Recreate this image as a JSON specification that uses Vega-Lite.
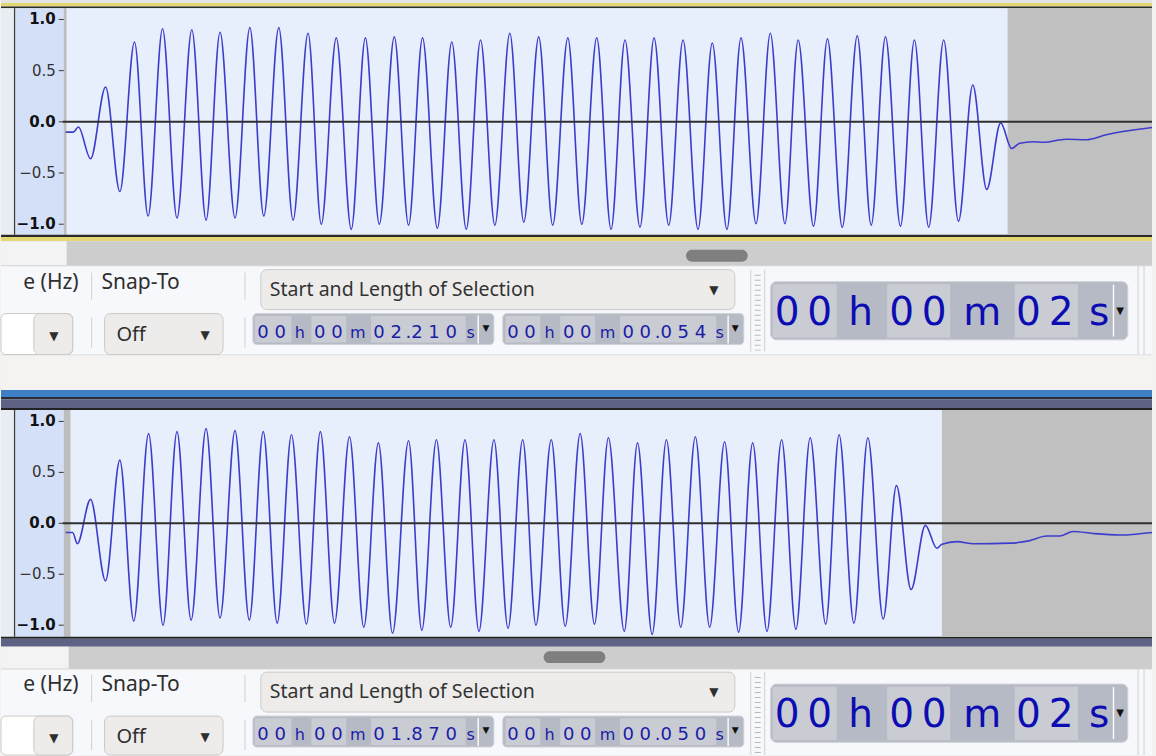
{
"$schema":"https://vega.github.io/schema/vega-lite/v6.json",
"width":1156,"height":756,
"autosize":{"type":"fit","contains":"padding"},
"padding":0,
"background":"#f3f2f0",
"config":{"view":{"stroke":null},
 "style":{
  "ui":{"font":"Noto Sans","fontSize":21,"color":"#2e2e2e","align":"left","baseline":"middle"},
  "uis":{"font":"Noto Sans","fontSize":19.5,"color":"#333333","align":"left","baseline":"middle"},
  "arrow":{"font":"DejaVu Sans","fontSize":12,"color":"#2e2e2e","align":"center","baseline":"middle"},
  "arrows":{"font":"DejaVu Sans","fontSize":9,"color":"#111111","align":"center","baseline":"middle"},
  "dig":{"font":"DejaVu Sans","fontSize":18,"color":"#1b1ba8","align":"center","baseline":"alphabetic"},
  "unit":{"font":"DejaVu Sans","fontSize":16,"color":"#1b1ba8","align":"center","baseline":"alphabetic"},
  "big":{"font":"DejaVu Sans","fontSize":39,"color":"#0c0cb2","align":"center","baseline":"alphabetic"},
  "sep":{"color":"#d0d0d0","strokeWidth":1},
  "wline":{"color":"#f8f8f8","strokeWidth":1.5},
  "box":{"color":"#edecea","stroke":"#cbc9c6","strokeWidth":1,"cornerRadius":6},
  "wbox":{"color":"#ffffff","stroke":"#cbc9c6","strokeWidth":1,"cornerRadius":5},
  "field":{"color":"#b6bac4","stroke":"#cfd1d6","strokeWidth":1,"cornerRadius":4},
  "cell":{"color":"#c9ccd3"},
  "thumb":{"color":"#7f7f7f","cornerRadius":6},
  "ylab":{"font":"DejaVu Sans","fontSize":15,"color":"#333333","align":"right","baseline":"middle"},
  "ylabb":{"font":"DejaVu Sans","fontSize":15,"fontWeight":"bold","color":"#111111","align":"right","baseline":"middle"}
 }
},
"data":{"values":[{}]},
"datasets":{
 "ticks":[{"v":1},{"v":0.5},{"v":0},{"v":-0.5},{"v":-1}],
 "track1":[
  {"ms":-0.06,"amp":-0.10},{"ms":0.38,"amp":-0.10},{"ms":0.67,"amp":-0.05},{"ms":1.37,"amp":-0.36},{"ms":2.23,"amp":0.34},{"ms":3.05,"amp":-0.68},{"ms":3.89,"amp":0.78},{"ms":4.67,"amp":-0.92},{"ms":5.50,"amp":0.91},{"ms":6.33,"amp":-0.94},{"ms":7.18,"amp":0.90},{"ms":8.00,"amp":-0.96},{"ms":8.80,"amp":0.875},{"ms":9.66,"amp":-0.94},{"ms":10.51,"amp":0.92},{"ms":11.31,"amp":-0.92},{"ms":12.17,"amp":0.92},{"ms":12.99,"amp":-0.96},{"ms":13.85,"amp":0.865},{"ms":14.61,"amp":-1.00},{"ms":15.47,"amp":0.82},{"ms":16.33,"amp":-1.05},{"ms":17.14,"amp":0.82},{"ms":17.94,"amp":-1.00},{"ms":18.80,"amp":0.83},{"ms":19.62,"amp":-1.01},{"ms":20.42,"amp":0.82},{"ms":21.27,"amp":-1.04},{"ms":22.10,"amp":0.78},{"ms":22.93,"amp":-1.05},{"ms":23.75,"amp":0.80},{"ms":24.57,"amp":-1.01},{"ms":25.43,"amp":0.865},{"ms":26.23,"amp":-0.98},{"ms":27.09,"amp":0.83},{"ms":27.89,"amp":-1.01},{"ms":28.76,"amp":0.82},{"ms":29.56,"amp":-1.00},{"ms":30.42,"amp":0.82},{"ms":31.24,"amp":-1.05},{"ms":32.04,"amp":0.80},{"ms":32.90,"amp":-1.03},{"ms":33.71,"amp":0.82},{"ms":34.55,"amp":-1.01},{"ms":35.37,"amp":0.80},{"ms":36.23,"amp":-1.05},{"ms":37.05,"amp":0.77},{"ms":37.89,"amp":-1.05},{"ms":38.70,"amp":0.82},{"ms":39.56,"amp":-0.995},{"ms":40.38,"amp":0.865},{"ms":41.22,"amp":-0.995},{"ms":41.98,"amp":0.80},{"ms":42.86,"amp":-1.02},{"ms":43.66,"amp":0.81},{"ms":44.51,"amp":-1.03},{"ms":45.37,"amp":0.84},{"ms":46.17,"amp":-1.01},{"ms":46.99,"amp":0.83},{"ms":47.85,"amp":-1.02},{"ms":48.65,"amp":0.80},{"ms":49.47,"amp":-1.03},{"ms":50.33,"amp":0.80},{"ms":51.18,"amp":-0.97},{"ms":52.00,"amp":0.36},{"ms":52.80,"amp":-0.66},{"ms":53.60,"amp":-0.01},{"ms":54.23,"amp":-0.26},{"ms":54.69,"amp":-0.21},{"ms":55.47,"amp":-0.195},{"ms":56.04,"amp":-0.20},{"ms":57.37,"amp":-0.17},{"ms":58.51,"amp":-0.175},{"ms":59.66,"amp":-0.127},{"ms":60.61,"amp":-0.095},{"ms":62.29,"amp":-0.055}
 ],
 "track2":[
  {"ms":-0.29,"amp":-0.09},{"ms":0.11,"amp":-0.09},{"ms":0.38,"amp":-0.20},{"ms":1.14,"amp":0.235},{"ms":2.00,"amp":-0.565},{"ms":2.82,"amp":0.62},{"ms":3.62,"amp":-0.96},{"ms":4.47,"amp":0.88},{"ms":5.30,"amp":-1.00},{"ms":6.10,"amp":0.90},{"ms":6.91,"amp":-0.95},{"ms":7.77,"amp":0.93},{"ms":8.57,"amp":-0.93},{"ms":9.43,"amp":0.91},{"ms":10.25,"amp":-0.95},{"ms":11.05,"amp":0.90},{"ms":11.85,"amp":-0.98},{"ms":12.67,"amp":0.87},{"ms":13.53,"amp":-0.99},{"ms":14.33,"amp":0.90},{"ms":15.14,"amp":-0.98},{"ms":16.00,"amp":0.85},{"ms":16.82,"amp":-1.02},{"ms":17.66,"amp":0.79},{"ms":18.47,"amp":-1.08},{"ms":19.39,"amp":0.81},{"ms":20.15,"amp":-1.05},{"ms":20.99,"amp":0.82},{"ms":21.81,"amp":-1.02},{"ms":22.63,"amp":0.82},{"ms":23.43,"amp":-1.06},{"ms":24.29,"amp":0.82},{"ms":25.10,"amp":-1.03},{"ms":25.94,"amp":0.82},{"ms":26.70,"amp":-1.00},{"ms":27.58,"amp":0.82},{"ms":28.38,"amp":-1.01},{"ms":29.24,"amp":0.88},{"ms":30.06,"amp":-0.99},{"ms":30.86,"amp":0.84},{"ms":31.77,"amp":-1.06},{"ms":32.53,"amp":0.79},{"ms":33.37,"amp":-1.09},{"ms":34.19,"amp":0.82},{"ms":35.01,"amp":-1.02},{"ms":35.85,"amp":0.85},{"ms":36.67,"amp":-1.02},{"ms":37.53,"amp":0.80},{"ms":38.33,"amp":-1.07},{"ms":39.14,"amp":0.79},{"ms":39.96,"amp":-1.06},{"ms":40.80,"amp":0.82},{"ms":41.62,"amp":-1.04},{"ms":42.44,"amp":0.84},{"ms":43.33,"amp":-0.99},{"ms":44.10,"amp":0.87},{"ms":44.95,"amp":-0.98},{"ms":45.75,"amp":0.84},{"ms":46.63,"amp":-0.94},{"ms":47.39,"amp":0.37},{"ms":48.23,"amp":-0.65},{"ms":49.05,"amp":-0.02},{"ms":49.71,"amp":-0.245},{"ms":50.00,"amp":-0.205},{"ms":50.86,"amp":-0.18},{"ms":51.81,"amp":-0.20},{"ms":53.90,"amp":-0.195},{"ms":55.05,"amp":-0.17},{"ms":56.00,"amp":-0.125},{"ms":56.76,"amp":-0.125},{"ms":57.53,"amp":-0.08},{"ms":58.67,"amp":-0.10},{"ms":60.19,"amp":-0.115},{"ms":62.06,"amp":-0.09}
 ]
},
"resolve":{"scale":{"x":"independent","y":"independent"},"axis":{"x":"independent","y":"independent"}},
"layer":[
{"layer":[
 {"mark":{"type":"rect","color":"#e4e4e4"},"encoding":{"x":{"datum":0,"type":"quantitative","scale":{"domain":[0,1156],"nice":false,"zero":false},"axis":null},"x2":{"datum":1156},"y":{"datum":0,"type":"quantitative","scale":{"domain":[0,756],"reverse":true,"nice":false,"zero":false},"axis":null},"y2":{"datum":3}}},
 {"mark":{"type":"rect","color":"#e2d773"},"encoding":{"x":{"datum":0,"axis":null},"x2":{"datum":1156},"y":{"datum":3,"axis":null},"y2":{"datum":6.5}}},
 {"mark":{"type":"rect","color":"#2a2a2a"},"encoding":{"x":{"datum":0,"axis":null},"x2":{"datum":1156},"y":{"datum":6.5,"axis":null},"y2":{"datum":8.3}}},
 {"mark":{"type":"rect","color":"#e8ecf3"},"encoding":{"x":{"datum":0,"axis":null},"x2":{"datum":13},"y":{"datum":8.3,"axis":null},"y2":{"datum":235}}},
 {"mark":{"type":"rect","color":"#3c3c3c"},"encoding":{"x":{"datum":13,"axis":null},"x2":{"datum":14.5},"y":{"datum":8.3,"axis":null},"y2":{"datum":235}}},
 {"mark":{"type":"rect","color":"#d4e0f7"},"encoding":{"x":{"datum":14.5,"axis":null},"x2":{"datum":63},"y":{"datum":8.3,"axis":null},"y2":{"datum":235}}},
 {"mark":{"type":"rect","color":"#bdbdbd"},"encoding":{"x":{"datum":63,"axis":null},"x2":{"datum":66},"y":{"datum":8.3,"axis":null},"y2":{"datum":235}}},
 {"mark":{"type":"rect","color":"#e7effc"},"encoding":{"x":{"datum":66,"axis":null},"x2":{"datum":1156},"y":{"datum":8.3,"axis":null},"y2":{"datum":235}}},
 {"mark":{"type":"rect","color":"#2a2a2a"},"encoding":{"x":{"datum":0,"axis":null},"x2":{"datum":1156},"y":{"datum":235,"axis":null},"y2":{"datum":237.3}}},
 {"mark":{"type":"rect","color":"#e2d773"},"encoding":{"x":{"datum":0,"axis":null},"x2":{"datum":1156},"y":{"datum":237.3,"axis":null},"y2":{"datum":241.5}}},
 {"mark":{"type":"rect","color":"#cdcdcd"},"encoding":{"x":{"datum":0,"axis":null},"x2":{"datum":1156},"y":{"datum":241.5,"axis":null},"y2":{"datum":266}}},
 {"mark":{"type":"rect","color":"#f3f3f3"},"encoding":{"x":{"datum":0,"axis":null},"x2":{"datum":66},"y":{"datum":241.5,"axis":null},"y2":{"datum":266}}},
 {"mark":{"type":"rect","style":"thumb"},"encoding":{"x":{"datum":688,"axis":null},"x2":{"datum":750},"y":{"datum":250,"axis":null},"y2":{"datum":262}}},
 {"mark":{"type":"rect","color":"#f7f8fc"},"encoding":{"x":{"datum":0,"axis":null},"x2":{"datum":1156},"y":{"datum":266,"axis":null},"y2":{"datum":355}}},
 {"mark":{"type":"rect","color":"#d3d3d3"},"encoding":{"x":{"datum":0,"axis":null},"x2":{"datum":1156},"y":{"datum":265.5,"axis":null},"y2":{"datum":266.5}}},
 {"mark":{"type":"rect","color":"#d9d9d9"},"encoding":{"x":{"datum":0,"axis":null},"x2":{"datum":1156},"y":{"datum":355,"axis":null},"y2":{"datum":356}}},
 {"mark":{"type":"rect","color":"#f4f3f1"},"encoding":{"x":{"datum":0,"axis":null},"x2":{"datum":1156},"y":{"datum":356,"axis":null},"y2":{"datum":390.5}}},
 {"mark":{"type":"text","style":"ui","text":"e (Hz)","align":"right"},"encoding":{"x":{"datum":78,"axis":null},"y":{"datum":283,"axis":null}}},
 {"mark":{"type":"rule","style":"sep"},"encoding":{"x":{"datum":91,"axis":null},"y":{"datum":273,"axis":null},"y2":{"datum":300}}},
 {"mark":{"type":"text","style":"ui","text":"Snap-To"},"encoding":{"x":{"datum":101,"axis":null},"y":{"datum":283,"axis":null}}},
 {"mark":{"type":"rule","style":"sep"},"encoding":{"x":{"datum":245,"axis":null},"y":{"datum":273,"axis":null},"y2":{"datum":300}}},
 {"mark":{"type":"rect","style":"box"},"encoding":{"x":{"datum":261,"axis":null},"x2":{"datum":737},"y":{"datum":270,"axis":null},"y2":{"datum":310}}},
 {"mark":{"type":"text","style":"uis","text":"Start and Length of Selection"},"encoding":{"x":{"datum":270,"axis":null},"y":{"datum":290,"axis":null}}},
 {"mark":{"type":"text","style":"arrow","text":"▼"},"encoding":{"x":{"datum":716,"axis":null},"y":{"datum":290,"axis":null}}},
 {"mark":{"type":"rect","style":"wbox"},"encoding":{"x":{"datum":0,"axis":null},"x2":{"datum":72},"y":{"datum":314,"axis":null},"y2":{"datum":355}}},
 {"mark":{"type":"rect","style":"box"},"encoding":{"x":{"datum":33,"axis":null},"x2":{"datum":72},"y":{"datum":314,"axis":null},"y2":{"datum":355}}},
 {"mark":{"type":"text","style":"arrow","text":"▼"},"encoding":{"x":{"datum":53,"axis":null},"y":{"datum":336,"axis":null}}},
 {"mark":{"type":"rule","style":"sep"},"encoding":{"x":{"datum":91,"axis":null},"y":{"datum":318,"axis":null},"y2":{"datum":348}}},
 {"mark":{"type":"rect","style":"box"},"encoding":{"x":{"datum":104,"axis":null},"x2":{"datum":223},"y":{"datum":314,"axis":null},"y2":{"datum":355}}},
 {"mark":{"type":"text","style":"ui","text":"Off","fontSize":20},"encoding":{"x":{"datum":116,"axis":null},"y":{"datum":335,"axis":null}}},
 {"mark":{"type":"text","style":"arrow","text":"▼"},"encoding":{"x":{"datum":205,"axis":null},"y":{"datum":335,"axis":null}}},
 {"mark":{"type":"rule","style":"sep"},"encoding":{"x":{"datum":245,"axis":null},"y":{"datum":318,"axis":null},"y2":{"datum":348}}},
 {"mark":{"type":"rect","style":"field"},"encoding":{"x":{"datum":253,"axis":null},"x2":{"datum":495},"y":{"datum":314,"axis":null},"y2":{"datum":345}}},
 {"mark":{"type":"rect","style":"cell"},"encoding":{"x":{"datum":255,"axis":null},"x2":{"datum":291.7},"y":{"datum":316.3,"axis":null},"y2":{"datum":343}}},
 {"mark":{"type":"rect","style":"cell"},"encoding":{"x":{"datum":311.7,"axis":null},"x2":{"datum":346.7},"y":{"datum":316.3,"axis":null},"y2":{"datum":343}}},
 {"mark":{"type":"rect","style":"cell"},"encoding":{"x":{"datum":371.7,"axis":null},"x2":{"datum":466.7},"y":{"datum":316.3,"axis":null},"y2":{"datum":343}}},
 {"mark":{"type":"rule","style":"wline"},"encoding":{"x":{"datum":479.3,"axis":null},"y":{"datum":316,"axis":null},"y2":{"datum":344}}},
 {"mark":{"type":"text","style":"dig","text":"0 0"},"encoding":{"x":{"datum":271.7,"axis":null},"y":{"datum":338,"axis":null}}},
 {"mark":{"type":"text","style":"unit","text":"h"},"encoding":{"x":{"datum":300,"axis":null},"y":{"datum":338,"axis":null}}},
 {"mark":{"type":"text","style":"dig","text":"0 0"},"encoding":{"x":{"datum":328.7,"axis":null},"y":{"datum":338,"axis":null}}},
 {"mark":{"type":"text","style":"unit","text":"m"},"encoding":{"x":{"datum":358.3,"axis":null},"y":{"datum":338,"axis":null}}},
 {"mark":{"type":"text","style":"dig","text":"0 2\u2009.2 1 0"},"encoding":{"x":{"datum":415.9,"axis":null},"y":{"datum":338,"axis":null}}},
 {"mark":{"type":"text","style":"unit","text":"s"},"encoding":{"x":{"datum":471.7,"axis":null},"y":{"datum":338,"axis":null}}},
 {"mark":{"type":"text","style":"arrows","text":"▼"},"encoding":{"x":{"datum":487,"axis":null},"y":{"datum":328,"axis":null}}},
 {"mark":{"type":"rect","style":"field"},"encoding":{"x":{"datum":504,"axis":null},"x2":{"datum":746},"y":{"datum":314,"axis":null},"y2":{"datum":345}}},
 {"mark":{"type":"rect","style":"cell"},"encoding":{"x":{"datum":506.7,"axis":null},"x2":{"datum":541.7},"y":{"datum":316.3,"axis":null},"y2":{"datum":343}}},
 {"mark":{"type":"rect","style":"cell"},"encoding":{"x":{"datum":561.7,"axis":null},"x2":{"datum":596.7},"y":{"datum":316.3,"axis":null},"y2":{"datum":343}}},
 {"mark":{"type":"rect","style":"cell"},"encoding":{"x":{"datum":621.7,"axis":null},"x2":{"datum":718.3},"y":{"datum":316.3,"axis":null},"y2":{"datum":343}}},
 {"mark":{"type":"rule","style":"wline"},"encoding":{"x":{"datum":730.3,"axis":null},"y":{"datum":316,"axis":null},"y2":{"datum":344}}},
 {"mark":{"type":"text","style":"dig","text":"0 0"},"encoding":{"x":{"datum":522.7,"axis":null},"y":{"datum":338,"axis":null}}},
 {"mark":{"type":"text","style":"unit","text":"h"},"encoding":{"x":{"datum":551,"axis":null},"y":{"datum":338,"axis":null}}},
 {"mark":{"type":"text","style":"dig","text":"0 0"},"encoding":{"x":{"datum":578.7,"axis":null},"y":{"datum":338,"axis":null}}},
 {"mark":{"type":"text","style":"unit","text":"m"},"encoding":{"x":{"datum":609.3,"axis":null},"y":{"datum":338,"axis":null}}},
 {"mark":{"type":"text","style":"dig","text":"0 0\u2009.0 5 4"},"encoding":{"x":{"datum":666.2,"axis":null},"y":{"datum":338,"axis":null}}},
 {"mark":{"type":"text","style":"unit","text":"s"},"encoding":{"x":{"datum":721.7,"axis":null},"y":{"datum":338,"axis":null}}},
 {"mark":{"type":"text","style":"arrows","text":"▼"},"encoding":{"x":{"datum":737.3,"axis":null},"y":{"datum":328,"axis":null}}},
 {"mark":{"type":"rule","style":"sep"},"encoding":{"x":{"datum":753,"axis":null},"y":{"datum":270,"axis":null},"y2":{"datum":352}}},
 {"mark":{"type":"rule","style":"sep"},"encoding":{"x":{"datum":767,"axis":null},"y":{"datum":270,"axis":null},"y2":{"datum":352}}},
 {"mark":{"type":"rule","color":"#b9b9b9","strokeWidth":6,"strokeDash":[1,4]},"encoding":{"x":{"datum":760,"axis":null},"y":{"datum":275,"axis":null},"y2":{"datum":351}}},
 {"mark":{"type":"rect","style":"field","cornerRadius":6},"encoding":{"x":{"datum":773,"axis":null},"x2":{"datum":1131.7},"y":{"datum":282,"axis":null},"y2":{"datum":340.3}}},
 {"mark":{"type":"rect","style":"cell"},"encoding":{"x":{"datum":775,"axis":null},"x2":{"datum":839.3},"y":{"datum":284.7,"axis":null},"y2":{"datum":338}}},
 {"mark":{"type":"rect","style":"cell"},"encoding":{"x":{"datum":890,"axis":null},"x2":{"datum":953.3},"y":{"datum":284.7,"axis":null},"y2":{"datum":338}}},
 {"mark":{"type":"rect","style":"cell"},"encoding":{"x":{"datum":1018.3,"axis":null},"x2":{"datum":1081.7},"y":{"datum":284.7,"axis":null},"y2":{"datum":338}}},
 {"mark":{"type":"rule","style":"wline"},"encoding":{"x":{"datum":1117.3,"axis":null},"y":{"datum":285,"axis":null},"y2":{"datum":337}}},
 {"mark":{"type":"text","style":"big","text":"0\u20090"},"encoding":{"x":{"datum":805.9,"axis":null},"y":{"datum":325.3,"axis":null}}},
 {"mark":{"type":"text","style":"big","text":"h"},"encoding":{"x":{"datum":863.3,"axis":null},"y":{"datum":325.3,"axis":null}}},
 {"mark":{"type":"text","style":"big","text":"0\u20090"},"encoding":{"x":{"datum":920.9,"axis":null},"y":{"datum":325.3,"axis":null}}},
 {"mark":{"type":"text","style":"big","text":"m"},"encoding":{"x":{"datum":985.5,"axis":null},"y":{"datum":325.3,"axis":null}}},
 {"mark":{"type":"text","style":"big","text":"0\u20092"},"encoding":{"x":{"datum":1048.3,"axis":null},"y":{"datum":325.3,"axis":null}}},
 {"mark":{"type":"text","style":"big","text":"s"},"encoding":{"x":{"datum":1103,"axis":null},"y":{"datum":325.3,"axis":null}}},
 {"mark":{"type":"text","style":"arrows","text":"▼","fontSize":10},"encoding":{"x":{"datum":1124,"axis":null},"y":{"datum":311,"axis":null}}},
 {"mark":{"type":"rule","style":"sep"},"encoding":{"x":{"datum":1142,"axis":null},"y":{"datum":266,"axis":null},"y2":{"datum":355}}},
 {"mark":{"type":"rule","style":"sep"},"encoding":{"x":{"datum":1148,"axis":null},"y":{"datum":266,"axis":null},"y2":{"datum":355}}},
 {"mark":{"type":"rect","color":"#3e7ec5"},"encoding":{"x":{"datum":0,"axis":null},"x2":{"datum":1156},"y":{"datum":390.5,"axis":null},"y2":{"datum":397.5}}},
 {"mark":{"type":"rect","color":"#2a2d3c"},"encoding":{"x":{"datum":0,"axis":null},"x2":{"datum":1156},"y":{"datum":397.5,"axis":null},"y2":{"datum":400}}},
 {"mark":{"type":"rect","color":"#5e6385"},"encoding":{"x":{"datum":0,"axis":null},"x2":{"datum":1156},"y":{"datum":400,"axis":null},"y2":{"datum":408.5}}},
 {"mark":{"type":"rect","color":"#222222"},"encoding":{"x":{"datum":0,"axis":null},"x2":{"datum":1156},"y":{"datum":408.5,"axis":null},"y2":{"datum":410.5}}},
 {"mark":{"type":"rect","color":"#e8ecf3"},"encoding":{"x":{"datum":0,"axis":null},"x2":{"datum":13},"y":{"datum":410.5,"axis":null},"y2":{"datum":637.5}}},
 {"mark":{"type":"rect","color":"#3c3c3c"},"encoding":{"x":{"datum":13,"axis":null},"x2":{"datum":14.5},"y":{"datum":410.5,"axis":null},"y2":{"datum":637.5}}},
 {"mark":{"type":"rect","color":"#d4e0f7"},"encoding":{"x":{"datum":14.5,"axis":null},"x2":{"datum":63},"y":{"datum":410.5,"axis":null},"y2":{"datum":637.5}}},
 {"mark":{"type":"rect","color":"#bdbdbd"},"encoding":{"x":{"datum":63,"axis":null},"x2":{"datum":70},"y":{"datum":410.5,"axis":null},"y2":{"datum":637.5}}},
 {"mark":{"type":"rect","color":"#e7effc"},"encoding":{"x":{"datum":70,"axis":null},"x2":{"datum":1156},"y":{"datum":410.5,"axis":null},"y2":{"datum":637.5}}},
 {"mark":{"type":"rect","color":"#222222"},"encoding":{"x":{"datum":0,"axis":null},"x2":{"datum":1156},"y":{"datum":637.5,"axis":null},"y2":{"datum":639.5}}},
 {"mark":{"type":"rect","color":"#5e6385"},"encoding":{"x":{"datum":0,"axis":null},"x2":{"datum":1156},"y":{"datum":639.5,"axis":null},"y2":{"datum":647.5}}},
 {"mark":{"type":"rect","color":"#cdcdcd"},"encoding":{"x":{"datum":0,"axis":null},"x2":{"datum":1156},"y":{"datum":647.5,"axis":null},"y2":{"datum":670}}},
 {"mark":{"type":"rect","color":"#f3f3f3"},"encoding":{"x":{"datum":0,"axis":null},"x2":{"datum":68},"y":{"datum":647.5,"axis":null},"y2":{"datum":670}}},
 {"mark":{"type":"rect","style":"thumb"},"encoding":{"x":{"datum":545,"axis":null},"x2":{"datum":607},"y":{"datum":652,"axis":null},"y2":{"datum":664}}},
 {"mark":{"type":"rect","color":"#f7f8fc"},"encoding":{"x":{"datum":0,"axis":null},"x2":{"datum":1156},"y":{"datum":670,"axis":null},"y2":{"datum":756}}},
 {"mark":{"type":"rect","color":"#d3d3d3"},"encoding":{"x":{"datum":0,"axis":null},"x2":{"datum":1156},"y":{"datum":669.5,"axis":null},"y2":{"datum":670.5}}},
 {"mark":{"type":"text","style":"ui","text":"e (Hz)","align":"right"},"encoding":{"x":{"datum":78,"axis":null},"y":{"datum":686,"axis":null}}},
 {"mark":{"type":"rule","style":"sep"},"encoding":{"x":{"datum":91,"axis":null},"y":{"datum":676,"axis":null},"y2":{"datum":703}}},
 {"mark":{"type":"text","style":"ui","text":"Snap-To"},"encoding":{"x":{"datum":101,"axis":null},"y":{"datum":686,"axis":null}}},
 {"mark":{"type":"rule","style":"sep"},"encoding":{"x":{"datum":245,"axis":null},"y":{"datum":676,"axis":null},"y2":{"datum":703}}},
 {"mark":{"type":"rect","style":"box"},"encoding":{"x":{"datum":261,"axis":null},"x2":{"datum":737},"y":{"datum":673,"axis":null},"y2":{"datum":713}}},
 {"mark":{"type":"text","style":"uis","text":"Start and Length of Selection"},"encoding":{"x":{"datum":270,"axis":null},"y":{"datum":693,"axis":null}}},
 {"mark":{"type":"text","style":"arrow","text":"▼"},"encoding":{"x":{"datum":716,"axis":null},"y":{"datum":693,"axis":null}}},
 {"mark":{"type":"rect","style":"wbox"},"encoding":{"x":{"datum":0,"axis":null},"x2":{"datum":72},"y":{"datum":717,"axis":null},"y2":{"datum":756}}},
 {"mark":{"type":"rect","style":"box"},"encoding":{"x":{"datum":33,"axis":null},"x2":{"datum":72},"y":{"datum":717,"axis":null},"y2":{"datum":756}}},
 {"mark":{"type":"text","style":"arrow","text":"▼"},"encoding":{"x":{"datum":53,"axis":null},"y":{"datum":739,"axis":null}}},
 {"mark":{"type":"rule","style":"sep"},"encoding":{"x":{"datum":91,"axis":null},"y":{"datum":721,"axis":null},"y2":{"datum":751}}},
 {"mark":{"type":"rect","style":"box"},"encoding":{"x":{"datum":104,"axis":null},"x2":{"datum":223},"y":{"datum":717,"axis":null},"y2":{"datum":756}}},
 {"mark":{"type":"text","style":"ui","text":"Off","fontSize":20},"encoding":{"x":{"datum":116,"axis":null},"y":{"datum":738,"axis":null}}},
 {"mark":{"type":"text","style":"arrow","text":"▼"},"encoding":{"x":{"datum":205,"axis":null},"y":{"datum":738,"axis":null}}},
 {"mark":{"type":"rule","style":"sep"},"encoding":{"x":{"datum":245,"axis":null},"y":{"datum":721,"axis":null},"y2":{"datum":751}}},
 {"mark":{"type":"rect","style":"field"},"encoding":{"x":{"datum":253,"axis":null},"x2":{"datum":495},"y":{"datum":717,"axis":null},"y2":{"datum":748}}},
 {"mark":{"type":"rect","style":"cell"},"encoding":{"x":{"datum":255,"axis":null},"x2":{"datum":291.7},"y":{"datum":719.3,"axis":null},"y2":{"datum":746}}},
 {"mark":{"type":"rect","style":"cell"},"encoding":{"x":{"datum":311.7,"axis":null},"x2":{"datum":346.7},"y":{"datum":719.3,"axis":null},"y2":{"datum":746}}},
 {"mark":{"type":"rect","style":"cell"},"encoding":{"x":{"datum":371.7,"axis":null},"x2":{"datum":466.7},"y":{"datum":719.3,"axis":null},"y2":{"datum":746}}},
 {"mark":{"type":"rule","style":"wline"},"encoding":{"x":{"datum":479.3,"axis":null},"y":{"datum":719,"axis":null},"y2":{"datum":747}}},
 {"mark":{"type":"text","style":"dig","text":"0 0"},"encoding":{"x":{"datum":271.7,"axis":null},"y":{"datum":741,"axis":null}}},
 {"mark":{"type":"text","style":"unit","text":"h"},"encoding":{"x":{"datum":300,"axis":null},"y":{"datum":741,"axis":null}}},
 {"mark":{"type":"text","style":"dig","text":"0 0"},"encoding":{"x":{"datum":328.7,"axis":null},"y":{"datum":741,"axis":null}}},
 {"mark":{"type":"text","style":"unit","text":"m"},"encoding":{"x":{"datum":358.3,"axis":null},"y":{"datum":741,"axis":null}}},
 {"mark":{"type":"text","style":"dig","text":"0 1\u2009.8 7 0"},"encoding":{"x":{"datum":415.9,"axis":null},"y":{"datum":741,"axis":null}}},
 {"mark":{"type":"text","style":"unit","text":"s"},"encoding":{"x":{"datum":471.7,"axis":null},"y":{"datum":741,"axis":null}}},
 {"mark":{"type":"text","style":"arrows","text":"▼"},"encoding":{"x":{"datum":487,"axis":null},"y":{"datum":731,"axis":null}}},
 {"mark":{"type":"rect","style":"field"},"encoding":{"x":{"datum":504,"axis":null},"x2":{"datum":746},"y":{"datum":717,"axis":null},"y2":{"datum":748}}},
 {"mark":{"type":"rect","style":"cell"},"encoding":{"x":{"datum":506.7,"axis":null},"x2":{"datum":541.7},"y":{"datum":719.3,"axis":null},"y2":{"datum":746}}},
 {"mark":{"type":"rect","style":"cell"},"encoding":{"x":{"datum":561.7,"axis":null},"x2":{"datum":596.7},"y":{"datum":719.3,"axis":null},"y2":{"datum":746}}},
 {"mark":{"type":"rect","style":"cell"},"encoding":{"x":{"datum":621.7,"axis":null},"x2":{"datum":718.3},"y":{"datum":719.3,"axis":null},"y2":{"datum":746}}},
 {"mark":{"type":"rule","style":"wline"},"encoding":{"x":{"datum":730.3,"axis":null},"y":{"datum":719,"axis":null},"y2":{"datum":747}}},
 {"mark":{"type":"text","style":"dig","text":"0 0"},"encoding":{"x":{"datum":522.7,"axis":null},"y":{"datum":741,"axis":null}}},
 {"mark":{"type":"text","style":"unit","text":"h"},"encoding":{"x":{"datum":551,"axis":null},"y":{"datum":741,"axis":null}}},
 {"mark":{"type":"text","style":"dig","text":"0 0"},"encoding":{"x":{"datum":578.7,"axis":null},"y":{"datum":741,"axis":null}}},
 {"mark":{"type":"text","style":"unit","text":"m"},"encoding":{"x":{"datum":609.3,"axis":null},"y":{"datum":741,"axis":null}}},
 {"mark":{"type":"text","style":"dig","text":"0 0\u2009.0 5 0"},"encoding":{"x":{"datum":666.2,"axis":null},"y":{"datum":741,"axis":null}}},
 {"mark":{"type":"text","style":"unit","text":"s"},"encoding":{"x":{"datum":721.7,"axis":null},"y":{"datum":741,"axis":null}}},
 {"mark":{"type":"text","style":"arrows","text":"▼"},"encoding":{"x":{"datum":737.3,"axis":null},"y":{"datum":731,"axis":null}}},
 {"mark":{"type":"rule","style":"sep"},"encoding":{"x":{"datum":753,"axis":null},"y":{"datum":673,"axis":null},"y2":{"datum":756}}},
 {"mark":{"type":"rule","style":"sep"},"encoding":{"x":{"datum":767,"axis":null},"y":{"datum":673,"axis":null},"y2":{"datum":756}}},
 {"mark":{"type":"rule","color":"#b9b9b9","strokeWidth":6,"strokeDash":[1,4]},"encoding":{"x":{"datum":760,"axis":null},"y":{"datum":678,"axis":null},"y2":{"datum":754}}},
 {"mark":{"type":"rect","style":"field","cornerRadius":6},"encoding":{"x":{"datum":773,"axis":null},"x2":{"datum":1131.7},"y":{"datum":685,"axis":null},"y2":{"datum":743.3}}},
 {"mark":{"type":"rect","style":"cell"},"encoding":{"x":{"datum":775,"axis":null},"x2":{"datum":839.3},"y":{"datum":687.7,"axis":null},"y2":{"datum":741}}},
 {"mark":{"type":"rect","style":"cell"},"encoding":{"x":{"datum":890,"axis":null},"x2":{"datum":953.3},"y":{"datum":687.7,"axis":null},"y2":{"datum":741}}},
 {"mark":{"type":"rect","style":"cell"},"encoding":{"x":{"datum":1018.3,"axis":null},"x2":{"datum":1081.7},"y":{"datum":687.7,"axis":null},"y2":{"datum":741}}},
 {"mark":{"type":"rule","style":"wline"},"encoding":{"x":{"datum":1117.3,"axis":null},"y":{"datum":688,"axis":null},"y2":{"datum":740}}},
 {"mark":{"type":"text","style":"big","text":"0\u20090"},"encoding":{"x":{"datum":805.9,"axis":null},"y":{"datum":728.3,"axis":null}}},
 {"mark":{"type":"text","style":"big","text":"h"},"encoding":{"x":{"datum":863.3,"axis":null},"y":{"datum":728.3,"axis":null}}},
 {"mark":{"type":"text","style":"big","text":"0\u20090"},"encoding":{"x":{"datum":920.9,"axis":null},"y":{"datum":728.3,"axis":null}}},
 {"mark":{"type":"text","style":"big","text":"m"},"encoding":{"x":{"datum":985.5,"axis":null},"y":{"datum":728.3,"axis":null}}},
 {"mark":{"type":"text","style":"big","text":"0\u20092"},"encoding":{"x":{"datum":1048.3,"axis":null},"y":{"datum":728.3,"axis":null}}},
 {"mark":{"type":"text","style":"big","text":"s"},"encoding":{"x":{"datum":1103,"axis":null},"y":{"datum":728.3,"axis":null}}},
 {"mark":{"type":"text","style":"arrows","text":"▼","fontSize":10},"encoding":{"x":{"datum":1124,"axis":null},"y":{"datum":714,"axis":null}}},
 {"mark":{"type":"rule","style":"sep"},"encoding":{"x":{"datum":1142,"axis":null},"y":{"datum":670,"axis":null},"y2":{"datum":756}}},
 {"mark":{"type":"rule","style":"sep"},"encoding":{"x":{"datum":1148,"axis":null},"y":{"datum":670,"axis":null},"y2":{"datum":756}}}
]},
{"data":{"name":"track1"},
 "layer":[
  {"data":{"values":[{"sel_end_ms":54}]},"mark":{"type":"rect","color":"#c0c0c0"},"encoding":{"x":{"field":"sel_end_ms","type":"quantitative","scale":{"domain":[-3.7714,62.2857],"nice":false,"zero":false},"axis":null},"x2":{"datum":62.2857},"y":{"datum":1.112,"type":"quantitative","scale":{"domain":[-6.185,1.1902],"nice":false,"zero":false},"axis":null},"y2":{"datum":-1.102}}},
  {"mark":{"type":"line","interpolate":"monotone","color":"#3d3dcb","strokeWidth":1.6},"encoding":{"x":{"field":"ms","type":"quantitative","scale":{"domain":[-3.7714,62.2857],"nice":false,"zero":false},"axis":null},"y":{"field":"amp","type":"quantitative","scale":{"domain":[-6.185,1.1902],"nice":false,"zero":false},"axis":null}}},
  {"data":{"values":[{}]},"mark":{"type":"rule","color":"#2f2f2f","strokeWidth":2},"encoding":{"x":{"datum":-0.23,"type":"quantitative","scale":{"domain":[-3.7714,62.2857],"nice":false,"zero":false},"axis":null},"x2":{"datum":62.2857},"y":{"datum":0,"type":"quantitative","scale":{"domain":[-6.185,1.1902],"nice":false,"zero":false},"axis":null}}},
  {"data":{"name":"ticks"},"mark":{"type":"rule","color":"#3a3a3a","strokeWidth":1},"encoding":{"x":{"datum":-0.457,"type":"quantitative","scale":{"domain":[-3.7714,62.2857],"nice":false,"zero":false},"axis":null},"x2":{"datum":-0.171},"y":{"field":"v","type":"quantitative","scale":{"domain":[-6.185,1.1902],"nice":false,"zero":false},"axis":null}}},
  {"data":{"name":"ticks"},"transform":[{"filter":"datum.v != 0 && abs(datum.v) != 1"}],"mark":{"type":"text","style":"ylab"},"encoding":{"x":{"datum":-0.63,"type":"quantitative","scale":{"domain":[-3.7714,62.2857],"nice":false,"zero":false},"axis":null},"y":{"field":"v","type":"quantitative","scale":{"domain":[-6.185,1.1902],"nice":false,"zero":false},"axis":null},"text":{"field":"v","type":"quantitative","format":".1f"}}},
  {"data":{"name":"ticks"},"transform":[{"filter":"datum.v == 0 || abs(datum.v) == 1"}],"mark":{"type":"text","style":"ylabb"},"encoding":{"x":{"datum":-0.63,"type":"quantitative","scale":{"domain":[-3.7714,62.2857],"nice":false,"zero":false},"axis":null},"y":{"field":"v","type":"quantitative","scale":{"domain":[-6.185,1.1902],"nice":false,"zero":false},"axis":null},"text":{"field":"v","type":"quantitative","format":".1f"}}}
 ]},
{"data":{"name":"track2"},
 "layer":[
  {"data":{"values":[{"sel_end_ms":50}]},"mark":{"type":"rect","color":"#c0c0c0"},"encoding":{"x":{"field":"sel_end_ms","type":"quantitative","scale":{"domain":[-4,62.0571],"nice":false,"zero":false},"axis":null},"x2":{"datum":62.0571},"y":{"datum":1.113,"type":"quantitative","scale":{"domain":[-2.2745,5.1373],"nice":false,"zero":false},"axis":null},"y2":{"datum":-1.113}}},
  {"mark":{"type":"line","interpolate":"monotone","color":"#3d3dcb","strokeWidth":1.6},"encoding":{"x":{"field":"ms","type":"quantitative","scale":{"domain":[-4,62.0571],"nice":false,"zero":false},"axis":null},"y":{"field":"amp","type":"quantitative","scale":{"domain":[-2.2745,5.1373],"nice":false,"zero":false},"axis":null}}},
  {"data":{"values":[{}]},"mark":{"type":"rule","color":"#2f2f2f","strokeWidth":2},"encoding":{"x":{"datum":-0.457,"type":"quantitative","scale":{"domain":[-4,62.0571],"nice":false,"zero":false},"axis":null},"x2":{"datum":62.0571},"y":{"datum":0,"type":"quantitative","scale":{"domain":[-2.2745,5.1373],"nice":false,"zero":false},"axis":null}}},
  {"data":{"name":"ticks"},"mark":{"type":"rule","color":"#3a3a3a","strokeWidth":1},"encoding":{"x":{"datum":-0.686,"type":"quantitative","scale":{"domain":[-4,62.0571],"nice":false,"zero":false},"axis":null},"x2":{"datum":-0.4},"y":{"field":"v","type":"quantitative","scale":{"domain":[-2.2745,5.1373],"nice":false,"zero":false},"axis":null}}},
  {"data":{"name":"ticks"},"transform":[{"filter":"datum.v != 0 && abs(datum.v) != 1"}],"mark":{"type":"text","style":"ylab"},"encoding":{"x":{"datum":-0.857,"type":"quantitative","scale":{"domain":[-4,62.0571],"nice":false,"zero":false},"axis":null},"y":{"field":"v","type":"quantitative","scale":{"domain":[-2.2745,5.1373],"nice":false,"zero":false},"axis":null},"text":{"field":"v","type":"quantitative","format":".1f"}}},
  {"data":{"name":"ticks"},"transform":[{"filter":"datum.v == 0 || abs(datum.v) == 1"}],"mark":{"type":"text","style":"ylabb"},"encoding":{"x":{"datum":-0.857,"type":"quantitative","scale":{"domain":[-4,62.0571],"nice":false,"zero":false},"axis":null},"y":{"field":"v","type":"quantitative","scale":{"domain":[-2.2745,5.1373],"nice":false,"zero":false},"axis":null},"text":{"field":"v","type":"quantitative","format":".1f"}}}
 ]}
]
}
